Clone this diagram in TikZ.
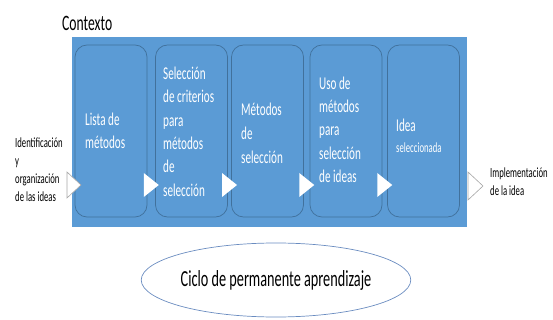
\documentclass[tikz,border=0pt]{standalone}
\usepackage{fontspec}
\setmainfont{Carlito}[FakeStretch=0.62]
\usetikzlibrary{shapes.geometric,calc}

\definecolor{fondo}{HTML}{5B9BD5}
\definecolor{borde}{HTML}{41719C}
\definecolor{elipse}{HTML}{6A8CC0}

\begin{document}
\begin{tikzpicture}[x=1pt, y=-1pt,
    paso/.style={draw=borde, line width=0.7pt, fill=fondo, rounded corners=12pt, minimum width=72pt, minimum height=172pt, inner sep=0pt},
    texto/.style={anchor=west, align=left, text=white, inner sep=0pt, font=\fontsize{18}{23.4}\selectfont},
    etiqueta/.style={anchor=west, align=left, inner sep=0pt, font=\fontsize{14}{18}\selectfont},
    punta/.style={fill=white},
    hueco/.style={fill=white, draw=gray!70, line width=0.6pt}
]
\useasboundingbox (0,0) rectangle (553,320);

% Contexto
\node[anchor=base west, inner sep=0pt, font=\fontsize{22}{26}\selectfont] (contexto) at (62,31) {Contexto};
\fill[fondo] (72,37) rectangle (467,227);

% Pasos del proceso
\node[paso] (b1) at (111,131) {};
\node[paso] (b2) at (191.5,131) {};
\node[paso] (b3) at (267.5,131) {};
\node[paso] (b4) at (346,131) {};
\node[paso] (b5) at (423.5,131) {};

\node[texto] (t1) at (85,130.7) {Lista de\\métodos};
\node[texto] (t2) at (163,131.7) {Selección\\de criterios\\para\\métodos\\de\\selección};
\node[texto, font=\fontsize{18}{24}\selectfont] (t3) at (241,133.7) {Métodos\\de\\selección};
\node[texto] (t4) at (319,129.8) {Uso de\\métodos\\para\\selección\\de ideas};
\node[texto] (t5) at (396,136) {Idea\\[-2.4pt]{\fontsize{14}{15}\selectfont seleccionada}};

% Flechas entre pasos
\foreach \a/\b in {b1/b2, b2/b3, b3/b4, b4/b5} {
    \fill[punta] ($(\a.east)!0.5!(\b.west)+(-7.5,42)$) -- ++(15,12) -- ++(-15,12) -- cycle;
}

% Entrada y salida
\draw[hueco] (67,172) -- (81,185) -- (67,198) -- cycle;
\draw[hueco] (468,172) -- (483,186) -- (468,200) -- cycle;
\node[etiqueta] (entrada) at (15,170) {Identificación\\y\\organización\\de las ideas};
\node[etiqueta] (salida) at (490,181.5) {Implementación\\de la idea};

% Ciclo
\node[draw=elipse, line width=0.7pt, ellipse, minimum width=238pt, minimum height=74pt, inner sep=0pt, font=\fontsize{23}{26}\selectfont] (ciclo) at (276,280) {Ciclo de permanente aprendizaje};

\end{tikzpicture}
\end{document}
